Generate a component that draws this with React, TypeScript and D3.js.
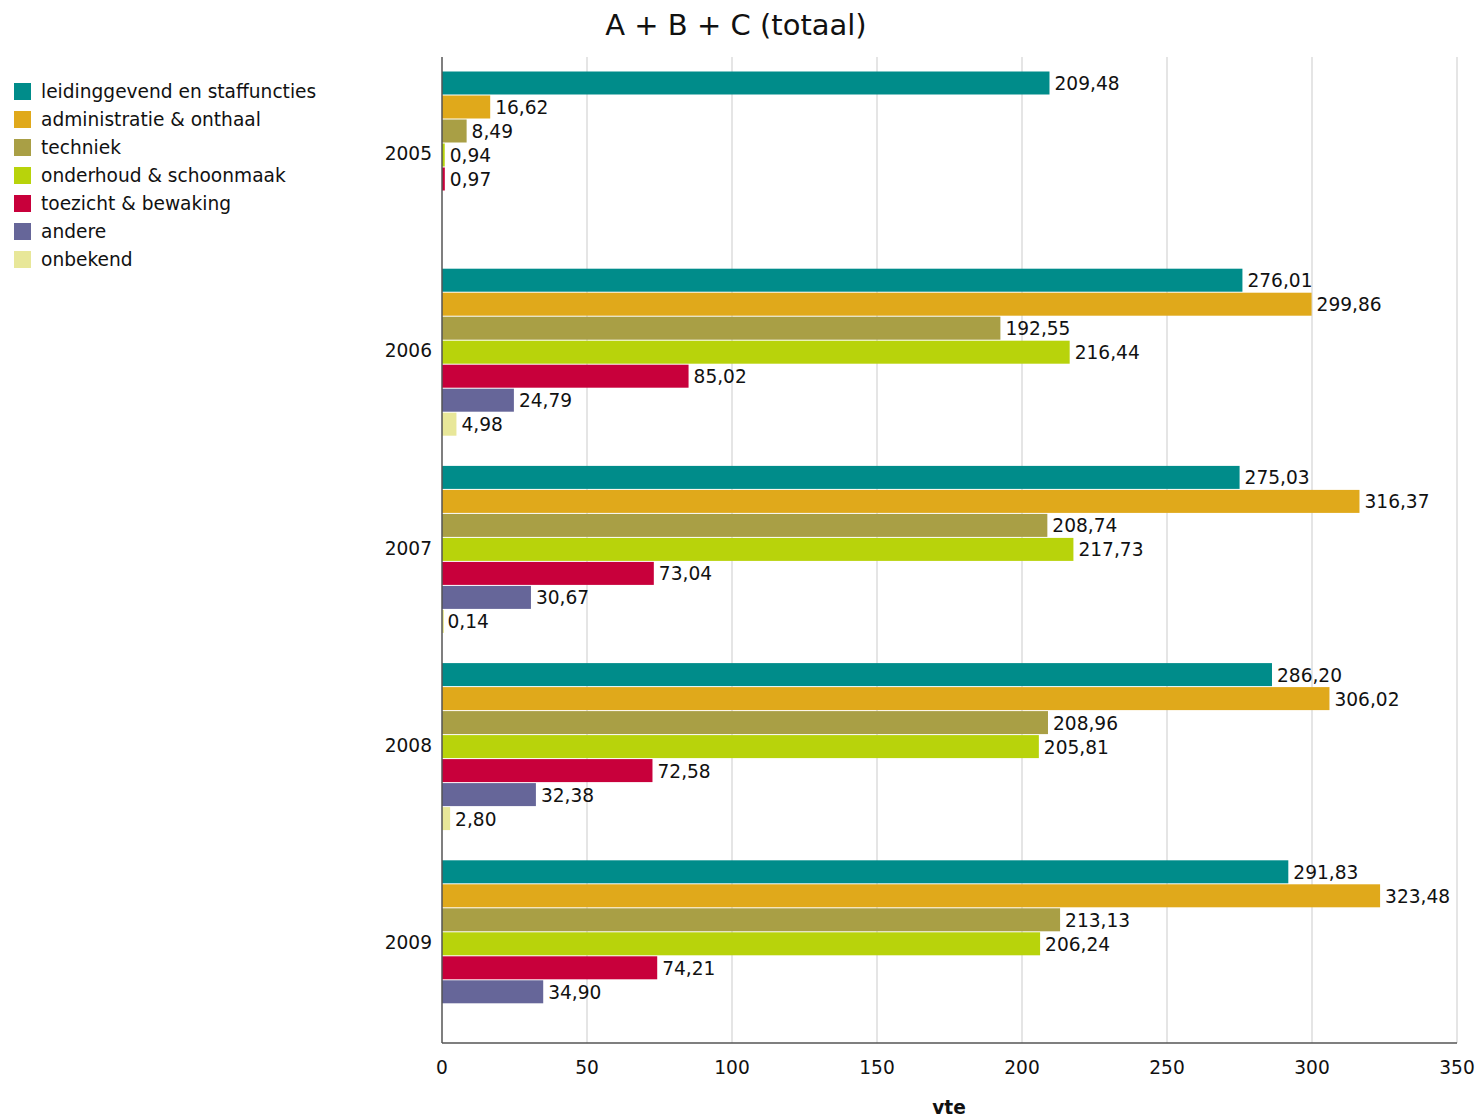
import React from "react";
import * as d3 from "d3";

const years = ["2005", "2006", "2007", "2008", "2009"];
const seriesNames = [
  "leidinggevend en staffuncties",
  "administratie & onthaal",
  "techniek",
  "onderhoud & schoonmaak",
  "toezicht & bewaking",
  "andere",
  "onbekend",
];
const seriesColors = ["#008C8A", "#E0A91B", "#A99F45", "#B8D30B", "#C8003B", "#666699", "#E8E799"];
// values per series, per year (null = not present)
const leiding = [209.48, 276.01, 275.03, 286.2, 291.83];
const administratie = [16.62, 299.86, 316.37, 306.02, 323.48];
const techniek = [8.49, 192.55, 208.74, 208.96, 213.13];
const onderhoud = [0.94, 216.44, 217.73, 205.81, 206.24];
const toezicht = [0.97, 85.02, 73.04, 72.58, 74.21];
const andere = [null, 24.79, 30.67, 32.38, 34.9];
const onbekend = [null, 4.98, 0.14, 2.8, null];
const seriesValues: (number | null)[][] = [leiding, administratie, techniek, onderhoud, toezicht, andere, onbekend];
const xTicks = [0, 50, 100, 150, 200, 250, 300, 350];

const FONT = "Tahoma, 'DejaVu Sans', Verdana, sans-serif";

export default function App() {
  const W = 1477, H = 1118;
  const left = 442, right = 1457, top = 57, bottom = 1043;
  const x = d3.scaleLinear().domain([0, 350]).range([left, right]);
  const yBand = d3.scaleBand<string>().domain(years).range([top, bottom]).padding(0);
  const inner = d3.scaleBand<number>().domain(d3.range(seriesNames.length)).range([14.5, 14.5 + 168]).padding(0);
  const fmt = (v: number) => v.toFixed(2).replace(".", ",");
  const FS = 18.6;

  return (
    <svg width={W} height={H} style={{ position: "absolute", left: 0, top: 0, background: "#fff" }} fontFamily={FONT}>
      <text x={736} y={35} textAnchor="middle" fontSize={29} fill="#111">A + B + C (totaal)</text>
      {/* gridlines */}
      {xTicks.filter((t) => t > 0).map((t) => (
        <line key={t} x1={x(t)} x2={x(t)} y1={top} y2={bottom} stroke="#dcdcdc" strokeWidth={1.5} />
      ))}
      {/* bars */}
      {years.map((yr, yi) => (
        <g key={yr}>
          {seriesValues.map((vals, si) => {
            const v = vals[yi];
            if (v == null) return null;
            const y0 = (yBand(yr) as number) + (inner(si) as number);
            const h = inner.bandwidth();
            return (
              <g key={si}>
                <rect x={x(0)} y={y0} width={Math.max(x(v) - x(0), 2)} height={h - 1} fill={seriesColors[si]} />
                <text x={x(v) + 5} y={y0 + h / 2} dominantBaseline="central" fontSize={FS} fill="#111">{fmt(v)}</text>
              </g>
            );
          })}
          <text x={432} y={(yBand(yr) as number) + yBand.bandwidth() / 2 - 2} textAnchor="end" dominantBaseline="central" fontSize={FS} fill="#111">{yr}</text>
        </g>
      ))}
      {/* axes */}
      <line x1={left} x2={left} y1={top} y2={bottom} stroke="#555" strokeWidth={1.5} />
      <line x1={left} x2={right} y1={bottom} y2={bottom} stroke="#555" strokeWidth={1.5} />
      {xTicks.map((t) => (
        <text key={t} x={x(t)} y={1067} textAnchor="middle" dominantBaseline="central" fontSize={FS} fill="#111">{t}</text>
      ))}
      <text x={949} y={1107} textAnchor="middle" dominantBaseline="central" fontSize={FS} fontWeight="bold" fill="#111">vte</text>
      {/* legend */}
      {seriesNames.map((n, i) => (
        <g key={n}>
          <rect x={14} y={91 + i * 28 - 8} width={17} height={17} fill={seriesColors[i]} />
          <text x={41} y={91 + i * 28} dominantBaseline="central" fontSize={FS} fill="#111">{n}</text>
        </g>
      ))}
    </svg>
  );
}
